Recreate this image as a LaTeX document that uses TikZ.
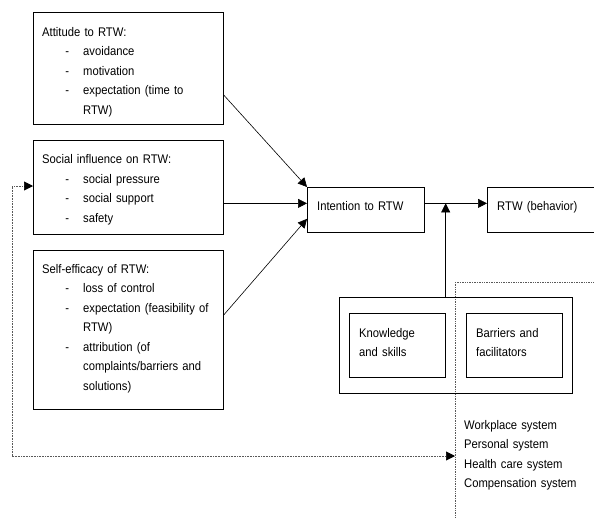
\documentclass[tikz,border=0pt]{standalone}
\usepackage{fontspec}
\setmainfont{Liberation Sans}[FakeStretch=0.9]
\usetikzlibrary{arrows.meta}

% dash item with hanging indent
\newcommand{\rtwitem}[1]{\par\noindent\hangindent=41pt\hangafter=0\llap{-\hspace{14pt}}#1\par}

\begin{document}
\begin{tikzpicture}[x=1pt,y=-1pt,
    box/.style={draw, line width=0.7pt, anchor=north west, inner sep=0pt},
    boxtext/.style={anchor=north west, inner sep=0pt, align=left, text width=#1,
      font=\fontsize{12.5pt}{19.5pt}\selectfont},
    boxtext/.default=170pt,
    link/.style={line width=0.6pt, -{Triangle[length=9pt,width=9pt]}},
    fbline/.style={line width=0.6pt, densely dotted, gray!70!black,
      {Triangle[length=9pt,width=9pt,color=black]}-{Triangle[length=9pt,width=9pt,color=black]}}
  ]
    \clip (0,0) rectangle (594,517);

    % factor boxes
    \node[box, minimum width=190pt, minimum height=112pt] (att) at (33,12) {};
    \node[box, minimum width=190pt, minimum height=94pt] (soc) at (33,140) {};
    \node[box, minimum width=190pt, minimum height=159pt] (self) at (33,250) {};

    \node[boxtext] (att-txt) at (42,27) {Attitude to RTW:\rtwitem{avoidance}\rtwitem{motivation}\rtwitem{expectation (time to\newline RTW)}};
    \node[boxtext] (soc-txt) at (42,154.5) {Social influence on RTW:\rtwitem{social pressure}\rtwitem{social support}\rtwitem{safety}};
    \node[boxtext] (self-txt) at (42,264) {Self-efficacy of RTW:\rtwitem{loss of control}\rtwitem{expectation (feasibility of\newline RTW)}\rtwitem{attribution (of\newline complaints/barriers and\newline solutions)}};

    % intention and behavior
    \node[box, minimum width=117pt, minimum height=45pt] (int) at (307,187) {};
    \node[box, minimum width=130pt, minimum height=45pt] (rtw) at (487,187) {};
    \node[boxtext=100pt] (int-txt) at (317,201) {Intention to RTW};
    \node[boxtext=100pt] (rtw-txt) at (497,201) {RTW (behavior)};

    % moderators
    \node[box, densely dotted, gray!70!black, minimum width=160pt, minimum height=260pt] (sys) at (455,282) {};
    \node[box, minimum width=233pt, minimum height=96pt] (big) at (339,297) {};
    \node[box, minimum width=96pt, minimum height=64pt] (kn) at (349,313) {};
    \node[box, minimum width=96pt, minimum height=64pt] (bar) at (466,313) {};
    \node[boxtext=85pt] (kn-txt) at (359,328) {Knowledge\\and skills};
    \node[boxtext=85pt] (bar-txt) at (476,328) {Barriers and\\facilitators};
    \node[boxtext=125pt] (sys-txt) at (464,420) {Workplace system\\Personal system\\Health care system\\Compensation system};

    % arrows
    \coordinate (tie) at ([yshift=6.5pt]int.west);
    \draw[link] ([yshift=-83pt]att.north east) -- (int.north west);
    \draw[link] (soc.east |- tie) -- (tie);
    \draw[link] ([yshift=-65pt]self.north east) -- ([yshift=-9pt]int.west);
    \draw[link] ([yshift=6.5pt]int.east) -- ([yshift=6.5pt]rtw.west);
    \draw[link] (big.north -| kn.east) -- (kn.east |- tie);

    % feedback loop
    \coordinate (fbtop) at (12,186);
    \coordinate (fbbot) at (12,456);
    \draw[fbline] (soc.west |- fbtop) -- (fbtop) -- (fbbot) -- (sys.west |- fbbot);
\end{tikzpicture}
\end{document}
